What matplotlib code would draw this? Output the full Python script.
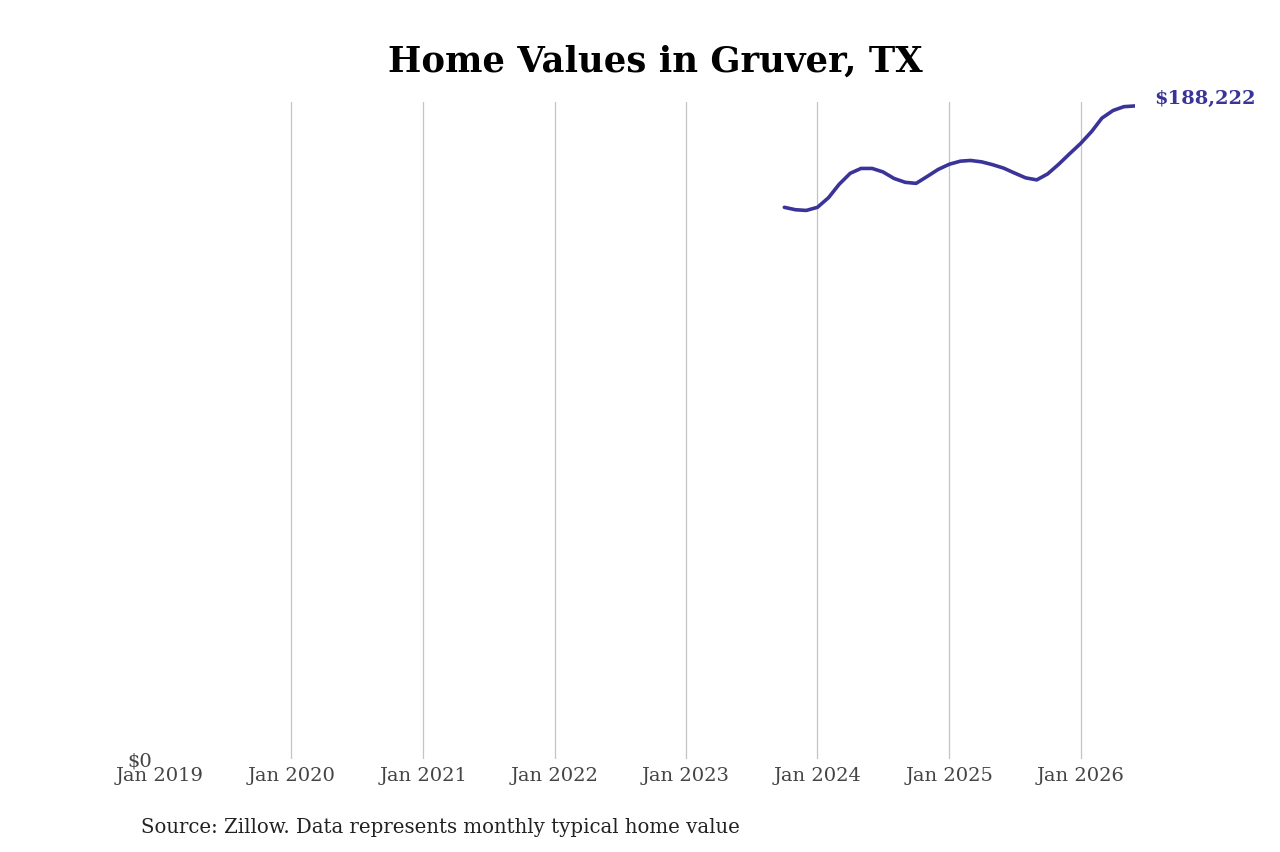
import matplotlib.pyplot as plt
import matplotlib.dates as mdates
import pandas as pd

plt.rcParams['font.family'] = ['DejaVu Serif']

# monthly typical home value, Oct 2023 - Jun 2026
dates = pd.date_range('2023-10-01', '2026-06-01', freq='MS')
values = [159000, 158300, 158100, 159000, 161800, 165600, 168800, 170200,
          170200, 169200, 167300, 166200, 165900, 167900, 169900, 171400,
          172300, 172500, 172100, 171300, 170300, 168900, 167500, 166900,
          168600, 171400, 174400, 177400, 180900, 184700, 186900, 188000,
          188222]
tick_years = list(range(2019, 2027))
title = 'Home Values in Gruver, TX'
source = 'Source: Zillow. Data represents monthly typical home value'
line_color = '#3b3498'

fig = plt.figure(figsize=(12.8, 8.53), dpi=100)
ax = fig.add_axes([160 / 1280, 1 - 760 / 853, (1135 - 160) / 1280, (760 - 103) / 853])

ax.plot(dates, values, color=line_color, linewidth=2.6,
        solid_capstyle='round', solid_joinstyle='round')

ax.set_xlim(pd.Timestamp('2019-01-01'), dates[-1])
ax.set_ylim(0, max(values) * 1.006)

ticks = [pd.Timestamp(f'{y}-01-01') for y in tick_years]
ax.set_xticks(ticks)
ax.xaxis.set_major_formatter(mdates.DateFormatter('%b %Y'))
ax.set_yticks([0])
ax.set_yticklabels(['$0'])
ax.tick_params(axis='both', length=0, labelsize=14, labelcolor='#444444')
ax.tick_params(axis='x', pad=5)
ax.tick_params(axis='y', pad=6)

ax.grid(axis='x', color='#c4c4c4', linewidth=0.9)
ax.xaxis.get_gridlines()[0].set_visible(False)
for s in ax.spines.values():
    s.set_visible(False)

ax.annotate(f'${values[-1]:,}', xy=(dates[-1], values[-1]), xytext=(14, 6),
            textcoords='offset points', color=line_color, fontsize=14,
            fontweight='bold', va='center', ha='left', annotation_clip=False)

fig.text(655 / 1280, 1 - 62 / 853, title, ha='center', va='center',
         fontsize=25.5, fontweight='bold')
fig.text(141 / 1280, 1 - 828 / 853, source, ha='left', va='center',
         fontsize=14.2, color='#222222')

fig.savefig('out.png', dpi=100, facecolor='white')
